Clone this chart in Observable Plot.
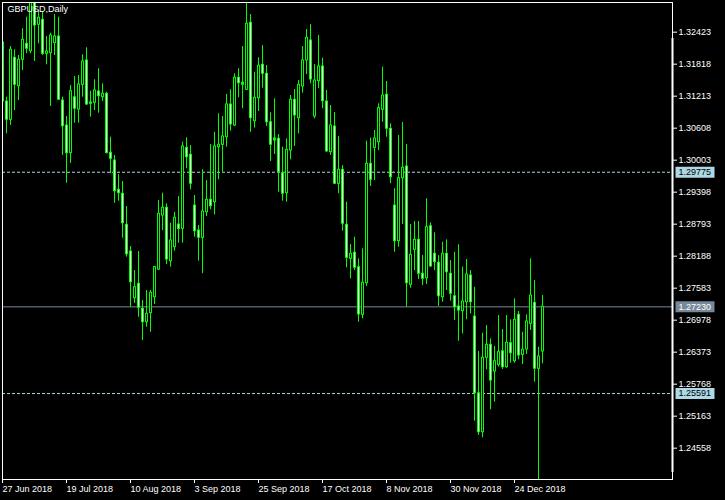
<!DOCTYPE html>
<html><head><meta charset="utf-8">
<script src="https://cdn.jsdelivr.net/npm/d3@7"></script>
<script src="https://cdn.jsdelivr.net/npm/@observablehq/plot@0.6"></script>
<style>html,body{margin:0;padding:0;background:#000;overflow:hidden}#chart svg{display:block}</style>
</head><body><div id="chart"></div>
<script>
const chartTitle = "GBPUSD,Daily";

const open = [1.32228,1.31112,1.30766,1.31939,1.31402,1.31901,1.32203,1.32063,1.3305,1.32563,
1.32657,1.32014,1.32026,1.32215,1.32341,1.31131,1.30659,1.30135,1.31194,1.30961,
1.31428,1.31888,1.31094,1.31088,1.31302,1.31194,1.31258,1.30143,1.29997,1.29443,
1.29367,1.28781,1.28276,1.27393,1.27666,1.27193,1.2694,1.2711,1.27412,1.27936,
1.28957,1.29103,1.28093,1.28358,1.28787,1.28706,1.30237,1.30105,1.29146,1.28673,
1.28535,1.29019,1.29254,1.29208,1.30248,1.30294,1.30437,1.31056,1.30659,1.31561,
1.31466,1.31334,1.326,1.3074,1.31175,1.31806,1.31636,1.30721,1.30375,1.30407,
1.29757,1.29379,1.30186,1.31145,1.30797,1.31396,1.31888,1.32266,1.30829,1.31496,
1.31774,1.31112,1.30154,1.3064,1.29556,1.29821,1.28781,1.28138,1.28252,1.2798,
1.2708,1.27677,1.29935,1.30237,1.30343,1.30956,1.31239,1.30596,1.29146,1.28471,
1.29662,1.29883,1.27647,1.28308,1.28497,1.27855,1.27771,1.28755,1.28233,1.28063,
1.27412,1.28233,1.27855,1.27431,1.27237,1.27148,1.27318,1.27823,1.27047,1.25597,
1.2486,1.26267,1.26512,1.26008,1.26134,1.26391,1.26089,1.26543,1.26202,1.2708,
1.26323,1.26424,1.26909,1.27306,1.26059,1.26386];

const high = [1.32266,1.31194,1.32152,1.3209,1.31982,1.32487,1.32706,1.33117,1.3362,1.32833,
1.32795,1.32341,1.32404,1.32757,1.32706,1.31194,1.30829,1.31415,1.31585,1.31604,
1.31995,1.32128,1.31307,1.31523,1.31731,1.31447,1.31288,1.30437,1.30091,1.29732,
1.296,1.29127,1.28371,1.27917,1.28276,1.2735,1.27539,1.27539,1.27993,1.29241,
1.29379,1.29178,1.28811,1.29019,1.29316,1.30343,1.30426,1.30281,1.29335,1.28768,
1.29821,1.29619,1.30299,1.30532,1.3088,1.30829,1.31245,1.31334,1.31636,1.31731,
1.32152,1.32971,1.32757,1.31666,1.31939,1.32171,1.31793,1.30899,1.31163,1.30489,
1.30248,1.30407,1.31226,1.31339,1.31509,1.32152,1.32474,1.32568,1.31812,1.3236,
1.31931,1.3132,1.31037,1.30904,1.30451,1.29902,1.29208,1.28409,1.28547,1.28138,
1.28327,1.30362,1.30419,1.30564,1.31069,1.31761,1.31491,1.30691,1.29462,1.3047,
1.30715,1.30299,1.28787,1.28844,1.28844,1.28201,1.29273,1.28819,1.2863,1.28201,
1.28452,1.28497,1.28106,1.28263,1.28403,1.2798,1.28125,1.27917,1.27601,1.26386,
1.26732,1.26877,1.26626,1.2648,1.27066,1.26802,1.27066,1.26985,1.27382,1.27142,
1.26751,1.2708,1.28138,1.27728,1.26467,1.27444];

const low = [1.31094,1.30502,1.30659,1.30942,1.31131,1.31699,1.32014,1.32014,1.31869,1.32203,
1.31982,1.31806,1.31018,1.31982,1.31131,1.30091,1.29568,1.2994,1.30702,1.30702,
1.31194,1.31037,1.30816,1.30942,1.30891,1.31112,1.30124,1.29745,1.2919,1.29227,
1.28528,1.28169,1.27223,1.27299,1.27034,1.26594,1.26845,1.26751,1.27274,1.27917,
1.28673,1.28031,1.2798,1.28282,1.28433,1.28433,1.2984,1.29443,1.28547,1.28093,
1.27855,1.28938,1.29065,1.2897,1.29632,1.29776,1.30248,1.30551,1.3064,1.31182,
1.30974,1.3132,1.30532,1.30608,1.30923,1.31364,1.3064,1.29978,1.3011,1.29398,
1.29227,1.29208,1.3001,1.30262,1.30502,1.31269,1.31623,1.31447,1.30785,1.31353,
1.30974,1.30154,1.30091,1.29543,1.29367,1.2866,1.27968,1.2776,1.27917,1.2694,
1.27004,1.27615,1.29505,1.29619,1.30186,1.30721,1.30437,1.29556,1.28263,1.28358,
1.28787,1.27223,1.27582,1.27917,1.27747,1.27633,1.27652,1.2798,1.27917,1.27237,
1.27318,1.27539,1.27337,1.26972,1.2658,1.2672,1.26985,1.27098,1.25068,1.24798,
1.24754,1.2604,1.25283,1.25427,1.26089,1.26045,1.2607,1.26164,1.26164,1.26229,
1.2614,1.26329,1.26783,1.25805,1.235,1.26153];

const close = [1.31112,1.30766,1.3209,1.31428,1.31901,1.32279,1.32109,1.3305,1.32549,1.32695,
1.32014,1.32058,1.3236,1.32341,1.31145,1.30645,1.30135,1.31307,1.30974,1.31434,
1.31869,1.31056,1.31069,1.3132,1.31213,1.31258,1.30135,1.30029,1.29416,1.29379,
1.28811,1.28225,1.27696,1.27601,1.27212,1.2694,1.27098,1.27496,1.2798,1.28989,
1.29103,1.28125,1.28484,1.28914,1.28702,1.30262,1.30059,1.29556,1.2866,1.28535,
1.29033,1.29254,1.29133,1.30262,1.30294,1.30451,1.31056,1.30678,1.31561,1.31458,
1.31428,1.32582,1.30797,1.31182,1.31787,1.31636,1.30721,1.30294,1.30413,1.29776,
1.29367,1.30199,1.31145,1.30848,1.31428,1.31888,1.32317,1.31528,1.31509,1.31774,
1.31118,1.30167,1.30659,1.29556,1.29821,1.288,1.28157,1.28233,1.27968,1.27085,
1.27685,1.29935,1.29632,1.30413,1.30986,1.31226,1.30596,1.29681,1.28471,1.29662,
1.29859,1.27677,1.28214,1.28497,1.27855,1.2776,1.28736,1.27993,1.28074,1.27431,
1.28233,1.27885,1.27477,1.27223,1.27161,1.27331,1.27842,1.27318,1.25597,1.2486,
1.26267,1.26512,1.25837,1.26202,1.26372,1.26089,1.2655,1.26354,1.26985,1.2631,
1.26418,1.26953,1.27444,1.26059,1.26291,1.2723];

const xTickIndex = [0, 16, 32, 48, 64, 80, 96, 112, 128];
const xTickLabels = ["27 Jun 2018", "19 Jul 2018", "10 Aug 2018", "3 Sep 2018", "25 Sep 2018",
  "17 Oct 2018", "8 Nov 2018", "30 Nov 2018", "24 Dec 2018"];
const yTicks = [1.32423, 1.31818, 1.31213, 1.30608, 1.30003, 1.29398, 1.28793,
  1.28188, 1.27583, 1.26978, 1.26373, 1.25768, 1.25163, 1.24558];
const levelValues = [1.29775, 1.27230, 1.25591];
const levelKinds = ["line", "bid", "line"];
const scaleBarRange = [1.24098, 1.32304];

const candles = open.map((o, i) => ({
  i, open: o, high: high[i], low: low[i], close: close[i],
  top: Math.max(o, close[i]), bottom: Math.min(o, close[i]), up: close[i] >= o
}));
const levels = levelValues.map((v, i) => ({value: v, kind: levelKinds[i]}));
const fmt = d3.format(".5f");
const boxSymbol = {draw(ctx) { ctx.rect(-19.5, -5.5, 39, 11); }};

const plot = Plot.plot({
  width: 725, height: 500,
  marginTop: 2, marginLeft: 2, marginRight: 53, marginBottom: 21,
  style: {background: "#000", color: "#fff", fontFamily: "'Liberation Sans', Arial, sans-serif", fontSize: "9px"},
  x: {domain: [0, 167.5], ticks: xTickIndex, tickFormat: () => "", tickSize: 4, label: null},
  y: {domain: [1.23966, 1.32984], axis: "right", ticks: yTicks, tickFormat: fmt, tickSize: 4, tickPadding: 2, label: null},
  marks: [
    Plot.ruleY(levels.filter(d => d.kind === "line"), {y: "value", stroke: "#add8e6", strokeDasharray: "3,2"}),
    Plot.ruleY(levels.filter(d => d.kind === "bid"), {y: "value", stroke: "#778899"}),
    // wicks
    Plot.ruleX(candles, {x: "i", y1: "low", y2: "high", stroke: "#00ff00", clip: true}),
    // body outline
    Plot.ruleX(candles, {x: "i", y1: "top", y2: "bottom", stroke: "#00ff00", strokeWidth: 3,
      insetTop: -0.5, insetBottom: -0.5, clip: true}),
    // body interior
    Plot.ruleX(candles.filter(d => d.top - d.bottom > 0.0004), {x: "i", y1: "top", y2: "bottom",
      stroke: d => d.up ? "#000" : "#fff", strokeWidth: 1, insetTop: 0.5, insetBottom: 0.5, clip: true}),
    Plot.frame({stroke: "#fff"}),
    Plot.ruleX([167.5], {y1: scaleBarRange[0], y2: scaleBarRange[1], stroke: "#fff", strokeWidth: 2}),
    Plot.dot(levels, {y: "value", frameAnchor: "right", dx: 22.5, symbol: boxSymbol, r: 5, stroke: "none",
      fill: d => d.kind === "bid" ? "#778899" : "#add8e6"}),
    Plot.text(levels, {y: "value", text: d => fmt(d.value), frameAnchor: "right", dx: 6, textAnchor: "start",
      lineAnchor: "middle", fill: d => d.kind === "bid" ? "#fff" : "#000"}),
    Plot.text(xTickIndex, {x: d => d, text: (d, i) => xTickLabels[i], frameAnchor: "bottom", dy: 9.5,
      textAnchor: "start", lineAnchor: "middle", fill: "#fff"}),
    Plot.text([chartTitle], {text: d => d, frameAnchor: "top-left", dx: 5, dy: 7, textAnchor: "start",
      lineAnchor: "middle", fill: "#fff"})
  ]
});
document.getElementById("chart").append(plot);
</script>
</body></html>
